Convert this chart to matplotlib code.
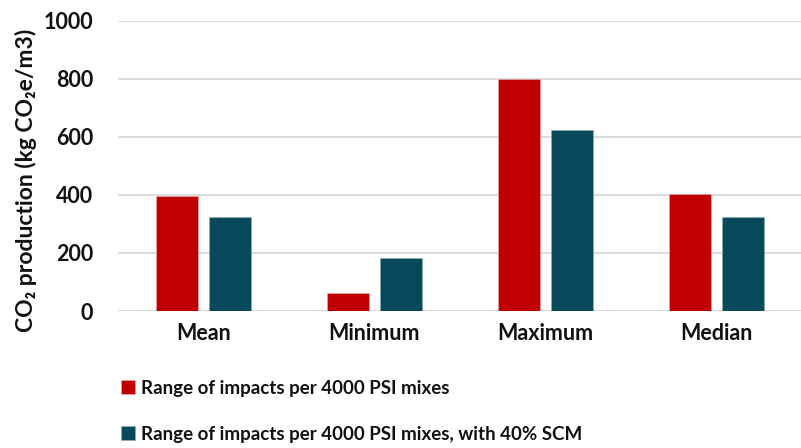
import matplotlib
matplotlib.use("Agg")
import matplotlib.pyplot as plt
import numpy as np

categories = ["Mean", "Minimum", "Maximum", "Median"]
series_names = ["Range of impacts per 4000 PSI mixes",
                "Range of impacts per 4000 PSI mixes, with 40% SCM"]
base_values = [397, 62, 797, 402]
scm_values = [323, 184, 622, 324]
yticks = [0, 200, 400, 600, 800, 1000]
colors = ["#C00000", "#084A5C"]

plt.rcParams['font.family'] = ['Lato', 'DejaVu Sans']
plt.rcParams['font.weight'] = 'bold'

fig = plt.figure(figsize=(8.01, 4.48), dpi=100)
ax = fig.add_axes([118/801, (448-311)/448, 684/801, (311-20.5)/448])

x = np.arange(len(categories))
w = 0.245
off = 0.1575
ax.bar(x - off, base_values, w, color=colors[0], label=series_names[0],
       edgecolor='#e8b0b0', linewidth=0.4, zorder=3)
ax.bar(x + off, scm_values, w, color=colors[1], label=series_names[1],
       edgecolor='#8fb0b8', linewidth=0.4, zorder=3)

ax.set_xlim(-0.5, 3.5)
ax.set_ylim(0, 1000)
ax.set_yticks(yticks)
ax.set_yticklabels([str(v) for v in yticks])
ax.set_xticks(x)
ax.set_xticklabels(categories)
ax.tick_params(axis='both', length=0, labelsize=15.5, colors='#111111')
ax.tick_params(axis='y', pad=18)
ax.tick_params(axis='x', pad=9)
for lab in ax.get_xticklabels() + ax.get_yticklabels():
    lab.set_fontweight('bold')

ax.grid(axis='y', color='#d9d9d9', linewidth=1.3, zorder=0)
for s in ax.spines.values():
    s.set_visible(False)

ax.set_ylabel("CO\u2082 production (kg CO\u2082e/m3)", fontsize=16.5,
              fontweight='bold', color='#111111')
ax.yaxis.set_label_coords(-(118-26)/684, 0.5 - 15/291)
ax.yaxis.label.set_va('center')

leg = fig.legend(loc='upper left', bbox_to_anchor=(113/801, 1 - 372/448),
                 frameon=False, fontsize=13.5, handlelength=0.75,
                 handleheight=0.75, handletextpad=0.35, labelspacing=1.55,
                 borderaxespad=0)
for t in leg.get_texts():
    t.set_fontweight('bold')
    t.set_color('#111111')

fig.savefig("out.png", dpi=100)
